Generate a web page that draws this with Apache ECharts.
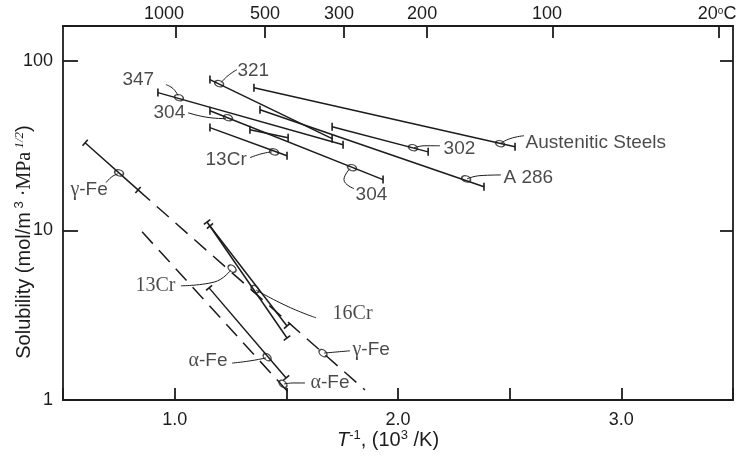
<!DOCTYPE html>
<html>
<head>
<meta charset="utf-8">
<script src="https://cdn.jsdelivr.net/npm/echarts@6/dist/echarts.min.js"></script>
<style>
html,body{margin:0;padding:0;background:#fff}
#chart{width:739px;height:459px}
</style>
</head>
<body>
<div id="chart"></div>
<script>
var chart = echarts.init(document.getElementById('chart'))

// axes
var xMin = 0.5, xMax = 3.5
var xLabelVals = [1, 2, 3]
var topTickVals = [1.006, 1.405, 1.758, 2.130, 2.694, 3.438]
var topLabelVals = [0.952, 1.405, 1.736, 2.108, 2.667, 3.429]
var topTickText = ['1000', '500', '300', '200', '100', '20°C']
var yLabelVals = [1, 10, 100]

// data lines, [10^3/T, solubility]
var austenitic = [[1.355, 69.3], [2.524, 31.1]]
var s321 = [[1.158, 77.3], [1.705, 34.7]]
var s347 = [[0.925, 64.8], [1.754, 31.9]]
var a286 = [[1.382, 51.4], [2.385, 18.06]]
var s302 = [[1.705, 40.8], [2.135, 29.0]]
var s304 = [[1.158, 50.7], [1.933, 19.9]]
var cr13Upper = [[1.158, 40.3], [1.503, 27.5]]
var shortSeg = [[1.337, 39.2], [1.508, 35.1]]
var gammaSolid = [[0.599, 32.8], [0.836, 17.3]]
var gammaDash = [[0.836, 17.3], [1.852, 1.146]]
var alphaDash = [[0.854, 9.80], [1.512, 1.10]]
var alphaSolid = [[1.154, 4.58], [1.499, 1.349]]
var cr13Lower = [[1.145, 11.2], [1.503, 2.32]]
var cr16 = [[1.158, 10.6], [1.503, 2.73]]

// little ovals on the lines
var upperCircles = [[1.199, 73.2], [1.019, 60.5], [1.239, 46.1], [1.445, 29.0], [1.794, 23.4], [2.067, 30.7], [2.457, 32.4], [2.305, 20.1], [0.751, 21.8]]
var lowerCircles = [[1.257, 5.95], [1.360, 4.50], [1.664, 1.89], [1.414, 1.79], [1.485, 1.243]]

// leader curves from the labels
var leaders = [
	[[1.208, 74.2], [1.239, 81.6], [1.279, 88.5]],
	[[0.961, 72.2], [0.993, 68.4], [1.015, 62.2]],
	[[1.060, 49.3], [1.158, 46.1], [1.230, 45.5]],
	[[1.337, 26.8], [1.391, 28.3], [1.436, 29.0]],
	[[1.785, 23.1], [1.758, 19.9], [1.803, 17.6]],
	[[2.072, 30.7], [2.121, 31.5], [2.188, 31.5]],
	[[2.457, 32.4], [2.502, 34.7], [2.564, 36.1]],
	[[2.309, 20.1], [2.367, 21.0], [2.461, 21.2]],
	[[0.746, 21.5], [0.719, 20.7], [0.693, 19.1]],
	[[1.028, 4.71], [1.176, 4.95], [1.252, 5.85]],
	[[1.364, 4.45], [1.508, 3.55], [1.633, 3.05]],
	[[1.669, 1.89], [1.727, 1.92], [1.785, 1.95]],
	[[1.257, 1.65], [1.337, 1.70], [1.409, 1.77]],
	[[1.490, 1.243], [1.534, 1.26], [1.584, 1.26]]
]

// labels: left edge / middle
var sansText = ['321', '347', '304', '13Cr', '304', '302', 'Austenitic Steels', 'A 286', 'γ-Fe', 'γ-Fe', 'α-Fe', 'α-Fe']
var sansPos = [[1.279, 87.3], [0.764, 77.3], [0.903, 49.3], [1.136, 26.1], [1.808, 16.2], [2.202, 30.3], [2.569, 32.8], [2.470, 20.4], [0.531, 17.3], [1.794, 1.97], [1.060, 1.70], [1.606, 1.26]]
var serifText = ['13Cr', '16Cr']
var serifPos = [[0.822, 4.71], [1.705, 3.22]]

var ink = '#1c1c1c'
var sans = 'Liberation Sans'
var serif = 'Liberation Serif'

function seg(data, caps, rot, dashed){
	return {
		type: 'line',
		data: data,
		symbol: caps ? 'rect' : 'none',
		symbolSize: [1.6, 8],
		symbolRotate: rot || 0,
		itemStyle: {color: ink},
		lineStyle: {color: ink, width: 1.5, type: dashed ? [16, 9] : 'solid'},
		silent: true,
		animation: false,
		z: 3
	}
}

function fmtLabel(s, base){
	var m = s.match(/^([αγ])(.*)$/)
	if(m){
		return '{g|' + m[1] + '}{s|' + m[2] + '}'
	}
	return '{' + base + '|' + s + '}'
}

var labelRich = {
	s: {fontFamily: sans, fontSize: 19, color: ink},
	g: {fontFamily: serif, fontSize: 20, color: ink},
	r: {fontFamily: serif, fontSize: 20, color: ink}
}

var series = [
	seg(austenitic, true),
	seg(s321, true),
	seg(s347, true),
	seg(a286, true),
	seg(s302, true),
	seg(s304, true),
	seg(cr13Upper, true),
	seg(shortSeg, true),
	seg(gammaSolid, true, -41),
	seg(gammaDash, false, 0, true),
	seg(alphaDash, false, 0, true),
	seg(alphaSolid, true, -50),
	seg(cr13Lower, true, -53),
	seg(cr16, true, -50)
]

for(var i=0;i<leaders.length;i++){
	series.push({
		type: 'line',
		data: leaders[i],
		smooth: 0.5,
		symbol: 'none',
		lineStyle: {color: ink, width: 1},
		silent: true,
		animation: false,
		z: 2
	})
}

series.push({
	type: 'scatter',
	data: upperCircles,
	symbol: 'circle',
	symbolSize: [9, 6],
	symbolRotate: -17,
	itemStyle: {color: 'rgba(0,0,0,0)', borderColor: ink, borderWidth: 1.4},
	silent: true,
	animation: false,
	z: 4
})
series.push({
	type: 'scatter',
	data: lowerCircles,
	symbol: 'circle',
	symbolSize: [9, 6],
	symbolRotate: -40,
	itemStyle: {color: 'rgba(0,0,0,0)', borderColor: ink, borderWidth: 1.4},
	silent: true,
	animation: false,
	z: 4
})

function labelSeries(pos, text, base){
	return {
		type: 'scatter',
		data: pos.map(function(p, k){ return {value: p, name: text[k]} }),
		symbolSize: 1,
		itemStyle: {color: 'rgba(0,0,0,0)'},
		label: {
			show: true,
			position: 'right',
			distance: 0,
			formatter: function(p){ return fmtLabel(p.name, base) },
			rich: labelRich
		},
		silent: true,
		animation: false,
		z: 5
	}
}
series.push(labelSeries(sansPos, sansText, 's'))
series.push(labelSeries(serifPos, serifText, 'r'))

var axisLineStyle = {color: ink, width: 1.8}

var option = {
	backgroundColor: '#fff',
	animation: false,
	grid: {left: 63, right: 6, top: 26, bottom: 59, containLabel: false, outerBoundsMode: 'none'},
	xAxis: [
		{
			type: 'value',
			min: xMin,
			max: xMax,
			interval: 0.5,
			position: 'bottom',
			axisLine: {lineStyle: axisLineStyle},
			axisTick: {inside: true, length: 12, lineStyle: axisLineStyle},
			splitLine: {show: false},
			axisLabel: {
				color: ink,
				fontFamily: sans,
				fontSize: 18,
				margin: 11,
				formatter: function(v){
					for(var k=0;k<xLabelVals.length;k++){
						if(Math.abs(v - xLabelVals[k]) < 1e-6) return xLabelVals[k].toFixed(1)
					}
					return ''
				}
			},
			name: '{i|T}{sup|-1}{a|, (10}{sup|3}{a| /K)}',
			nameLocation: 'middle',
			nameGap: 29,
			nameMoveOverlap: false,
			nameTextStyle: {
				padding: [0, 20, 0, 0],
				rich: {
					i: {fontFamily: sans, fontStyle: 'italic', fontSize: 20, color: ink},
					a: {fontFamily: sans, fontSize: 20, color: ink},
					sup: {fontFamily: sans, fontSize: 13, color: ink, padding: [0, 0, 10, 0]}
				}
			}
		},
		{
			type: 'value',
			min: xMin,
			max: xMax,
			position: 'top',
			axisLine: {lineStyle: axisLineStyle},
			axisTick: {inside: true, length: 12, lineStyle: axisLineStyle, customValues: topTickVals},
			splitLine: {show: false},
			axisLabel: {
				color: ink,
				fontFamily: sans,
				fontSize: 18,
				margin: 3,
				customValues: topLabelVals,
				formatter: function(v){
					var best = 0
					for(var k=1;k<topLabelVals.length;k++){
						if(Math.abs(topLabelVals[k]-v) < Math.abs(topLabelVals[best]-v)) best = k
					}
					var t = topTickText[best]
					if(t.indexOf('°C') > 0) return '{n|' + t.replace('°C', '') + '}{o|o}{n|C}'
					return '{n|' + t + '}'
				},
				rich: {
					n: {fontFamily: sans, fontSize: 18, color: ink},
					o: {fontFamily: sans, fontSize: 10, color: ink, padding: [0, 0, 6, 0]}
				}
			}
		}
	],
	yAxis: [
		{
			type: 'log',
			logBase: 10,
			min: 1,
			max: 160,
			position: 'left',
			axisLine: {lineStyle: axisLineStyle},
			axisTick: {inside: true, length: 15, lineStyle: axisLineStyle},
			splitLine: {show: false},
			axisLabel: {
				color: ink,
				fontFamily: sans,
				fontSize: 18,
				margin: 10,
				formatter: function(v){
					for(var k=0;k<yLabelVals.length;k++){
						if(Math.abs(v - yLabelVals[k]) < 1e-6 * yLabelVals[k]) return String(yLabelVals[k])
					}
					return ''
				}
			},
			name: '{a|Solubility (mol/m}{sup| 3}{b| ·MPa}{sup2| 1/2}{a|)}',
			nameLocation: 'middle',
			nameRotate: 90,
			nameGap: 27,
			nameMoveOverlap: false,
			nameTextStyle: {
				padding: [0, 58, 0, 0],
				rich: {
					a: {fontFamily: sans, fontSize: 20, color: ink},
					b: {fontFamily: serif, fontSize: 20, color: ink},
					sup: {fontFamily: sans, fontSize: 13, color: ink, padding: [0, 0, 10, 0]},
					sup2: {fontFamily: serif, fontStyle: 'italic', fontSize: 13, color: ink, padding: [0, 0, 10, 0]}
				}
			}
		},
		{
			type: 'log',
			logBase: 10,
			min: 1,
			max: 160,
			position: 'right',
			axisLine: {lineStyle: axisLineStyle},
			axisTick: {inside: true, length: 13, lineStyle: axisLineStyle},
			splitLine: {show: false},
			axisLabel: {show: false}
		}
	],
	series: series
}

chart.setOption(option)
</script>
</body>
</html>
